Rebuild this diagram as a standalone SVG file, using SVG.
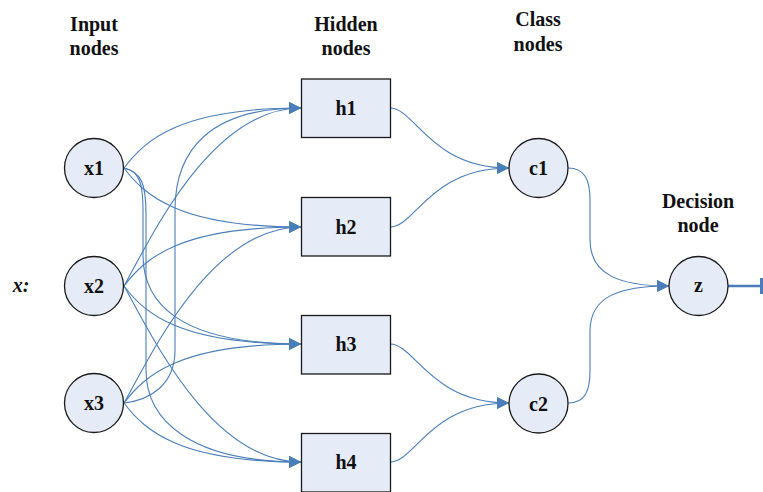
<svg xmlns="http://www.w3.org/2000/svg" width="763" height="492" viewBox="0 0 763 492">
<style>
.n{fill:#E6ECF7;stroke:#1a1a1a;stroke-width:1.3}
.t{font-family:"Liberation Serif","Times New Roman","DejaVu Serif",serif;font-weight:bold;font-size:20px;fill:#111;text-anchor:middle}
.c{fill:none;stroke:#4A7EBB;stroke-width:1.1;marker-end:url(#ah)}
</style>
<defs>
<marker id="ah" viewBox="0 0 12 12" markerWidth="12" markerHeight="12" refX="12" refY="6" orient="auto" markerUnits="userSpaceOnUse">
<path d="M0,0 L12,6 L0,12 z" fill="#4A7EBB"/>
</marker>
</defs>
<rect width="763" height="492" fill="#fff"/>
<g id="headings" font-family="Liberation Serif, serif">
<text class="t" x="94" y="31">Input</text>
<text class="t" x="94" y="55">nodes</text>
<text class="t" x="346" y="31">Hidden</text>
<text class="t" x="346" y="55">nodes</text>
<text class="t" x="538" y="26">Class</text>
<text class="t" x="538" y="51">nodes</text>
<text class="t" x="698" y="208">Decision</text>
<text class="t" x="698" y="232">node</text>
<text class="t" x="21" y="292" font-style="italic">x:</text>
</g>
<g id="connectors">
<path class="c" d="M124,168 C145,140 180,108 301,108"/>
<path class="c" d="M124,168 C145,196 180,227 301,227"/>
<path class="c" d="M124,168 C140,171 143,185 143,210 L143,255 C143,300 175,344 301,344"/>
<path class="c" d="M124,168 C142,172 146,185 146,215 L146,370 C146,420 190,462 301,462"/>
<path class="c" d="M124,286 C150,240 210,108 301,108"/>
<path class="c" d="M124,286 C145,258 180,227 301,227"/>
<path class="c" d="M124,286 C145,314 180,344 301,344"/>
<path class="c" d="M124,286 C150,332 210,462 301,462"/>
<path class="c" d="M124,403 C150,400 175,385 175,350 L175,210 C175,150 210,108 301,108"/>
<path class="c" d="M124,403 C150,357 210,227 301,227"/>
<path class="c" d="M124,403 C145,375 180,344 301,344"/>
<path class="c" d="M124,403 C145,431 180,462 301,462"/>
<path class="c" d="M390,108 C415,108 430,168 509,168"/>
<path class="c" d="M390,227 C415,227 430,168 509,168"/>
<path class="c" d="M390,344 C415,344 430,403 509,403"/>
<path class="c" d="M390,462 C415,462 430,403 509,403"/>
<path class="c" d="M568,168 C585,168 590,180 590,200 L590,240 C590,275 620,286 669,286"/>
<path class="c" d="M568,403 C585,403 590,391 590,371 L590,331 C590,296 620,286 669,286"/>
<path d="M728,286 L761,286" stroke="#4A7EBB" stroke-width="2.5" fill="none"/>
<path d="M761.5,278 L761.5,294" stroke="#4A7EBB" stroke-width="3" fill="none"/>
</g>
<g id="x1"><circle class="n" cx="94" cy="168" r="29.5"/><text class="t" x="94" y="175">x1</text></g>
<g id="x2"><circle class="n" cx="94" cy="286" r="29.5"/><text class="t" x="94" y="293">x2</text></g>
<g id="x3"><circle class="n" cx="94" cy="403" r="29.5"/><text class="t" x="94" y="410">x3</text></g>
<g id="h1"><rect class="n" x="301.5" y="79" width="89" height="58.5"/><text class="t" x="346" y="115">h1</text></g>
<g id="h2"><rect class="n" x="301.5" y="197.5" width="89" height="58.5"/><text class="t" x="346" y="234">h2</text></g>
<g id="h3"><rect class="n" x="301.5" y="315.5" width="89" height="58.5"/><text class="t" x="346" y="351">h3</text></g>
<g id="h4"><rect class="n" x="301.5" y="433.5" width="89" height="58.5"/><text class="t" x="346" y="469">h4</text></g>
<g id="c1"><circle class="n" cx="538.5" cy="168" r="29.5"/><text class="t" x="538.5" y="175">c1</text></g>
<g id="c2"><circle class="n" cx="538.5" cy="403.5" r="29.5"/><text class="t" x="538.5" y="410.5">c2</text></g>
<g id="z"><circle class="n" cx="698.5" cy="286" r="29.5"/><text class="t" x="698.5" y="292">z</text></g>
</svg>
